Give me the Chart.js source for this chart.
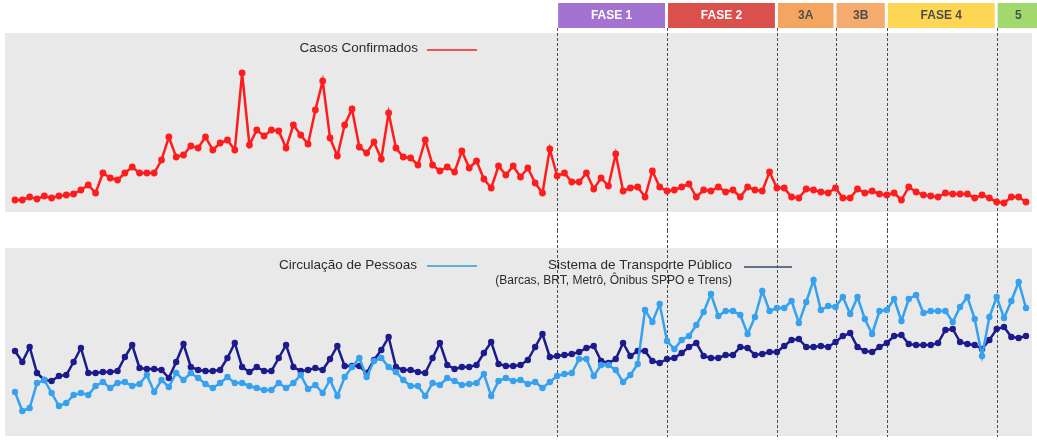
<!DOCTYPE html>
<html>
<head>
<meta charset="utf-8">
<title>Casos Confirmados x Circulação de Pessoas</title>
<script src="https://cdn.jsdelivr.net/npm/chart.js@4.4.0/dist/chart.umd.min.js"></script>
<style>
  html, body { margin: 0; padding: 0; background: #fff; }
  #wrap { position: relative; width: 1037px; height: 443px; overflow: hidden; }
  #wrap canvas { position: absolute; left: 0; }
  #casosChart { top: 0; }
  #mobilidadeChart { top: 230px; }
</style>
</head>
<body>
<div id="wrap">
  <canvas id="casosChart" width="1037" height="230"></canvas>
  <canvas id="mobilidadeChart" width="1037" height="213"></canvas>
</div>
<script>
// --- dias (20/03 a 05/08) ---
const meses = [
  ["03", 20, 31],
  ["04", 1, 30],
  ["05", 1, 31],
  ["06", 1, 30],
  ["07", 1, 31],
  ["08", 1, 5],
];
const dias = [];
meses.forEach(([m, de, ate]) => {
  for (let d = de; d <= ate; d++) dias.push(String(d).padStart(2, "0") + "/" + m);
});

// --- fases da reabertura ---
const fases = ["FASE 1", "FASE 2", "3A", "3B", "FASE 4", "5"];
const inicioFases = ["02/06", "17/06", "02/07", "10/07", "17/07", "01/08"];
const coresFases = ["#a473d1", "#d9504d", "#f4a660", "#f6ab6e", "#fdd653", "#a2d96e"];
const corTextoFases = ["#ffffff", "#ffffff", "#4d4d4d", "#4d4d4d", "#4d4d4d", "#4d4d4d"];

// --- series (escala relativa de cada painel) ---
const casosConfirmados = [
  12, 12, 15, 13, 16, 14, 16, 17, 18, 22, 27, 19,
  39, 34, 32, 39, 45, 39, 39, 39, 52, 75, 55, 57,
  66, 64, 75, 62, 69, 72, 62, 139, 67, 82, 76, 82,
  81, 64, 87, 77, 68, 102, 131, 74, 56, 87, 103, 65,
  59, 70, 53, 99, 64, 55, 54, 47, 72, 47, 41, 45,
  40, 61, 44, 51, 33, 24, 46, 37, 46, 35, 44, 29,
  19, 63, 36, 39, 30, 30, 39, 23, 34, 26, 58, 21,
  24, 25, 15, 41, 25, 21, 22, 25, 28, 15, 22, 21,
  25, 20, 22, 15, 25, 22, 21, 40, 24, 24, 15, 14,
  23, 22, 20, 19, 24, 14, 14, 23, 19, 21, 18, 17,
  19, 12, 25, 20, 17, 16, 15, 19, 18, 18, 18, 14,
  17, 14, 10, 9, 15, 15, 10,
];
const circulacaoPessoas = [
  44, 25, 28, 53, 56, 43, 30, 33, 41, 43, 41, 50,
  54, 48, 53, 54, 50, 52, 61, 44, 56, 49, 63, 56,
  63, 58, 52, 48, 53, 59, 53, 53, 50, 48, 46, 46,
  53, 48, 53, 61, 47, 51, 43, 56, 40, 59, 69, 78,
  59, 75, 78, 69, 64, 56, 50, 50, 40, 53, 51, 58,
  55, 51, 52, 53, 62, 40, 55, 58, 55, 56, 52, 54,
  48, 54, 60, 62, 63, 77, 77, 60, 71, 71, 66, 54,
  61, 72, 126, 114, 132, 95, 87, 96, 100, 111, 124, 142,
  120, 125, 125, 121, 102, 119, 145, 125, 128, 128, 135, 113,
  134, 156, 126, 130, 129, 139, 122, 139, 117, 102, 125, 126,
  137, 115, 137, 141, 123, 125, 125, 125, 114, 129, 139, 117,
  80, 119, 139, 118, 135, 154, 128,
];
const transportePublico = [
  85, 74, 89, 63, 56, 55, 60, 61, 74, 88, 63, 63,
  64, 64, 65, 79, 91, 68, 67, 67, 66, 58, 74, 92,
  69, 66, 65, 65, 66, 78, 93, 69, 64, 69, 65, 65,
  78, 91, 69, 65, 66, 68, 66, 77, 90, 70, 70, 70,
  63, 76, 86, 99, 69, 66, 66, 64, 63, 78, 93, 71,
  67, 69, 69, 71, 83, 94, 72, 70, 70, 71, 76, 89,
  102, 79, 80, 81, 82, 84, 88, 90, 75, 73, 77, 93,
  80, 85, 85, 75, 73, 77, 78, 83, 89, 93, 80, 78,
  78, 81, 81, 89, 88, 81, 82, 84, 84, 90, 96, 97,
  89, 89, 90, 89, 94, 100, 103, 89, 85, 84, 89, 93,
  100, 101, 92, 91, 91, 91, 93, 106, 107, 94, 92, 91,
  87, 96, 107, 109, 99, 98, 100,
];

const FONTE = "'Liberation Sans', Arial, sans-serif";
const VERMELHO = "#ff1c1c";
const AZUL_CLARO = "#36a1ef";
const AZUL_ESCURO = "#1b1b8e";

// --- helpers de desenho ---
function fundoPainel(chart) {
  const { ctx, chartArea: a } = chart;
  ctx.save();
  ctx.fillStyle = "#e9e9e9";
  ctx.fillRect(a.left - 10, a.top, a.right - a.left + 16, a.bottom - a.top);
  ctx.restore();
}

function linhasFases(chart, y0, y1) {
  const { ctx, scales } = chart;
  ctx.save();
  ctx.strokeStyle = "#4d4d4d";
  ctx.lineWidth = 1;
  ctx.setLineDash([3, 2]);
  inicioFases.forEach((d) => {
    const x = Math.round(scales.x.getPixelForValue(dias.indexOf(d))) + 0.5;
    ctx.beginPath();
    ctx.moveTo(x, y0);
    ctx.lineTo(x, y1);
    ctx.stroke();
  });
  ctx.restore();
}

function caixasFases(chart) {
  const { ctx, scales } = chart;
  const xs = inicioFases.map((d) => scales.x.getPixelForValue(dias.indexOf(d)));
  xs.push(chart.width + 4); // a ultima fase sai pela borda
  ctx.save();
  ctx.font = "bold 12px " + FONTE;
  ctx.textAlign = "center";
  ctx.textBaseline = "middle";
  fases.forEach((nome, i) => {
    const x0 = xs[i] + 1;
    const x1 = xs[i + 1] - 2;
    ctx.fillStyle = coresFases[i];
    ctx.fillRect(x0, 3, x1 - x0, 25);
    ctx.fillStyle = corTextoFases[i];
    ctx.fillText(nome, (x0 + x1) / 2, 16);
  });
  ctx.restore();
}

function itemLegenda(ctx, texto, xFim, y, cor, l0, l1, ly, tamanho) {
  ctx.save();
  ctx.font = (tamanho || 13.5) + "px " + FONTE;
  ctx.fillStyle = "#2b2b2b";
  ctx.textAlign = "right";
  ctx.textBaseline = "middle";
  ctx.fillText(texto, xFim, y);
  if (cor) {
    ctx.strokeStyle = cor;
    ctx.lineWidth = 1.5;
    ctx.beginPath();
    ctx.moveTo(l0, ly);
    ctx.lineTo(l1, ly);
    ctx.stroke();
  }
  ctx.restore();
}

function opcoesPainel(yMax, padding) {
  return {
    responsive: false,
    animation: false,
    layout: { padding },
    scales: {
      x: { type: "category", display: false, offset: false },
      y: { display: false, min: 0, max: yMax },
    },
    plugins: { legend: { display: false }, tooltip: { enabled: false } },
  };
}

function serie(label, data, cor, raio) {
  return {
    label,
    data,
    borderColor: cor,
    backgroundColor: cor,
    borderWidth: 2.5,
    pointRadius: raio,
    pointBorderWidth: 0,
    pointBackgroundColor: cor,
    tension: 0,
    clip: false,
  };
}

// --- painel de cima: casos confirmados ---
new Chart(document.getElementById("casosChart"), {
  type: "line",
  data: {
    labels: dias,
    datasets: [serie("Casos Confirmados", casosConfirmados, VERMELHO, 3.4)],
  },
  options: opcoesPainel(179, { top: 33, bottom: 18, left: 15, right: 11 }),
  plugins: [
    {
      id: "painelCasos",
      beforeDraw(chart) {
        fundoPainel(chart);
      },
      beforeDatasetsDraw(chart) {
        linhasFases(chart, 28, chart.height);
      },
      afterDraw(chart) {
        caixasFases(chart);
        itemLegenda(chart.ctx, "Casos Confirmados", 418, 48, VERMELHO, 427, 477, 50);
      },
    },
  ],
});

// --- painel de baixo: circulacao e transporte publico ---
new Chart(document.getElementById("mobilidadeChart"), {
  type: "line",
  data: {
    labels: dias,
    datasets: [
      serie("Circulação de Pessoas", circulacaoPessoas, AZUL_CLARO, 3.2),
      serie("Sistema de Transporte Público", transportePublico, AZUL_ESCURO, 3.2),
    ],
  },
  options: opcoesPainel(188, { top: 18, bottom: 7, left: 15, right: 11 }),
  plugins: [
    {
      id: "painelMobilidade",
      beforeDraw(chart) {
        fundoPainel(chart);
      },
      beforeDatasetsDraw(chart) {
        linhasFases(chart, 0, 207);
      },
      afterDraw(chart) {
        const ctx = chart.ctx;
        itemLegenda(ctx, "Circulação de Pessoas", 417, 35, "#2b9ccc", 427, 477, 36);
        itemLegenda(ctx, "Sistema de Transporte Público", 732, 35, "#2d4b6b", 744, 792, 37);
        itemLegenda(ctx, "(Barcas, BRT, Metrô, Ônibus SPPO e Trens)", 732, 51, null, 0, 0, 0, 12);
      },
    },
  ],
});
</script>
</body>
</html>
